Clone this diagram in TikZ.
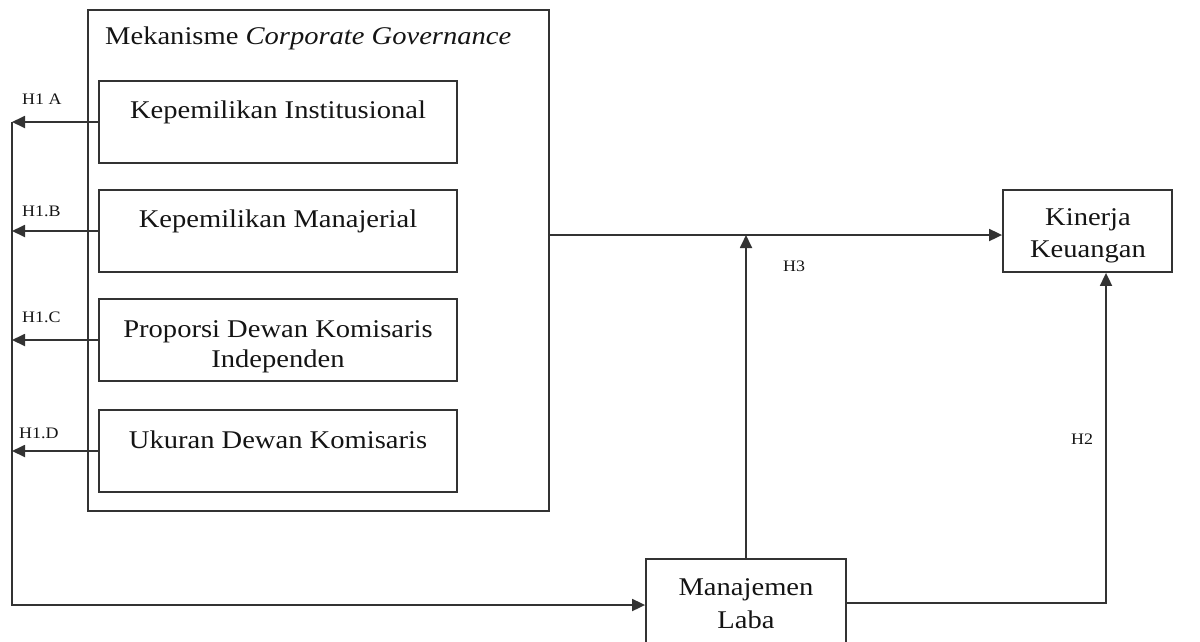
\documentclass[tikz,border=0pt]{standalone}
\usepackage{fontspec}
\setmainfont{Liberation Serif}[FakeStretch=1.12]
\usetikzlibrary{arrows.meta}
\definecolor{ln}{HTML}{333333}
\definecolor{tx}{HTML}{141414}
\begin{document}
\begin{tikzpicture}[x=1pt,y=-1pt,
  box/.style={draw=ln,line width=1.8pt,inner sep=0pt,rectangle},
  conn/.style={draw=ln,line width=1.8pt,line join=miter},
  arr/.style={conn,-{Triangle[length=13pt,width=12pt]}},
  big/.style={text=tx,inner sep=0pt,font=\fontsize{25.5}{30}\selectfont},
  small/.style={text=tx,inner sep=0pt,font=\fontsize{16}{19}\selectfont}]
\useasboundingbox (0,0) rectangle (1200,641);
% boxes
\node[box,minimum width=461pt,minimum height=501pt] (outer) at (318.5,260.5) {};
\node[box,minimum width=358pt,minimum height=82pt] (in1) at (278,122) {};
\node[box,minimum width=358pt,minimum height=82pt] (in2) at (278,231) {};
\node[box,minimum width=358pt,minimum height=82pt] (in3) at (278,340) {};
\node[box,minimum width=358pt,minimum height=82pt] (in4) at (278,451) {};
\node[box,minimum width=169pt,minimum height=82pt] (kin) at (1087.5,231) {};
\node[box,minimum width=200pt,minimum height=90pt] (mgmt) at (746,604) {};
% texts
\node[big,anchor=base west] (title) at (105,44) {Mekanisme \textit{Corporate Governance}};
\node[big,anchor=base] (t1) at (278,118) {Kepemilikan Institusional};
\node[big,anchor=base] (t2) at (278,227) {Kepemilikan Manajerial};
\node[big,anchor=base] (t3a) at (278,337) {Proporsi Dewan Komisaris};
\node[big,anchor=base] (t3b) at (278,367) {Independen};
\node[big,anchor=base] (t4) at (278,448) {Ukuran Dewan Komisaris};
\node[big,anchor=base] (k1) at (1088,225) {Kinerja};
\node[big,anchor=base] (k2) at (1088,257) {Keuangan};
\node[big,anchor=base] (m1) at (746,595) {Manajemen};
\node[big,anchor=base] (m2) at (746,628) {Laba};
% labels
\node[small,anchor=base west] (h1a) at (22,104) {H1 A};
\node[small,anchor=base west] (h1b) at (22,216) {H1.B};
\node[small,anchor=base west] (h1c) at (22,322) {H1.C};
\node[small,anchor=base west] (h1d) at (19,438) {H1.D};
\node[small,anchor=base west] (h3) at (783,271) {H3};
\node[small,anchor=base west] (h2) at (1071,444) {H2};
% coordinates
\coordinate (lb) at (12,605);
\coordinate (jn) at (746,235);
\coordinate (rb) at (1106,603);
% connectors
\draw[arr] (in1.west) -- (in1.west -| lb);
\draw[arr] (in2.west) -- (in2.west -| lb);
\draw[arr] (in3.west) -- (in3.west -| lb);
\draw[arr] (in4.west) -- (in4.west -| lb);
\draw[arr] (in1.west -| lb) -- (lb) -- (lb -| mgmt.west);
\draw[arr] (outer.east |- jn) -- (kin.west |- jn);
\draw[arr] (mgmt.north) -- (jn);
\draw[arr] (mgmt.east |- rb) -- (rb) -- (rb |- kin.south);
\end{tikzpicture}
\end{document}
